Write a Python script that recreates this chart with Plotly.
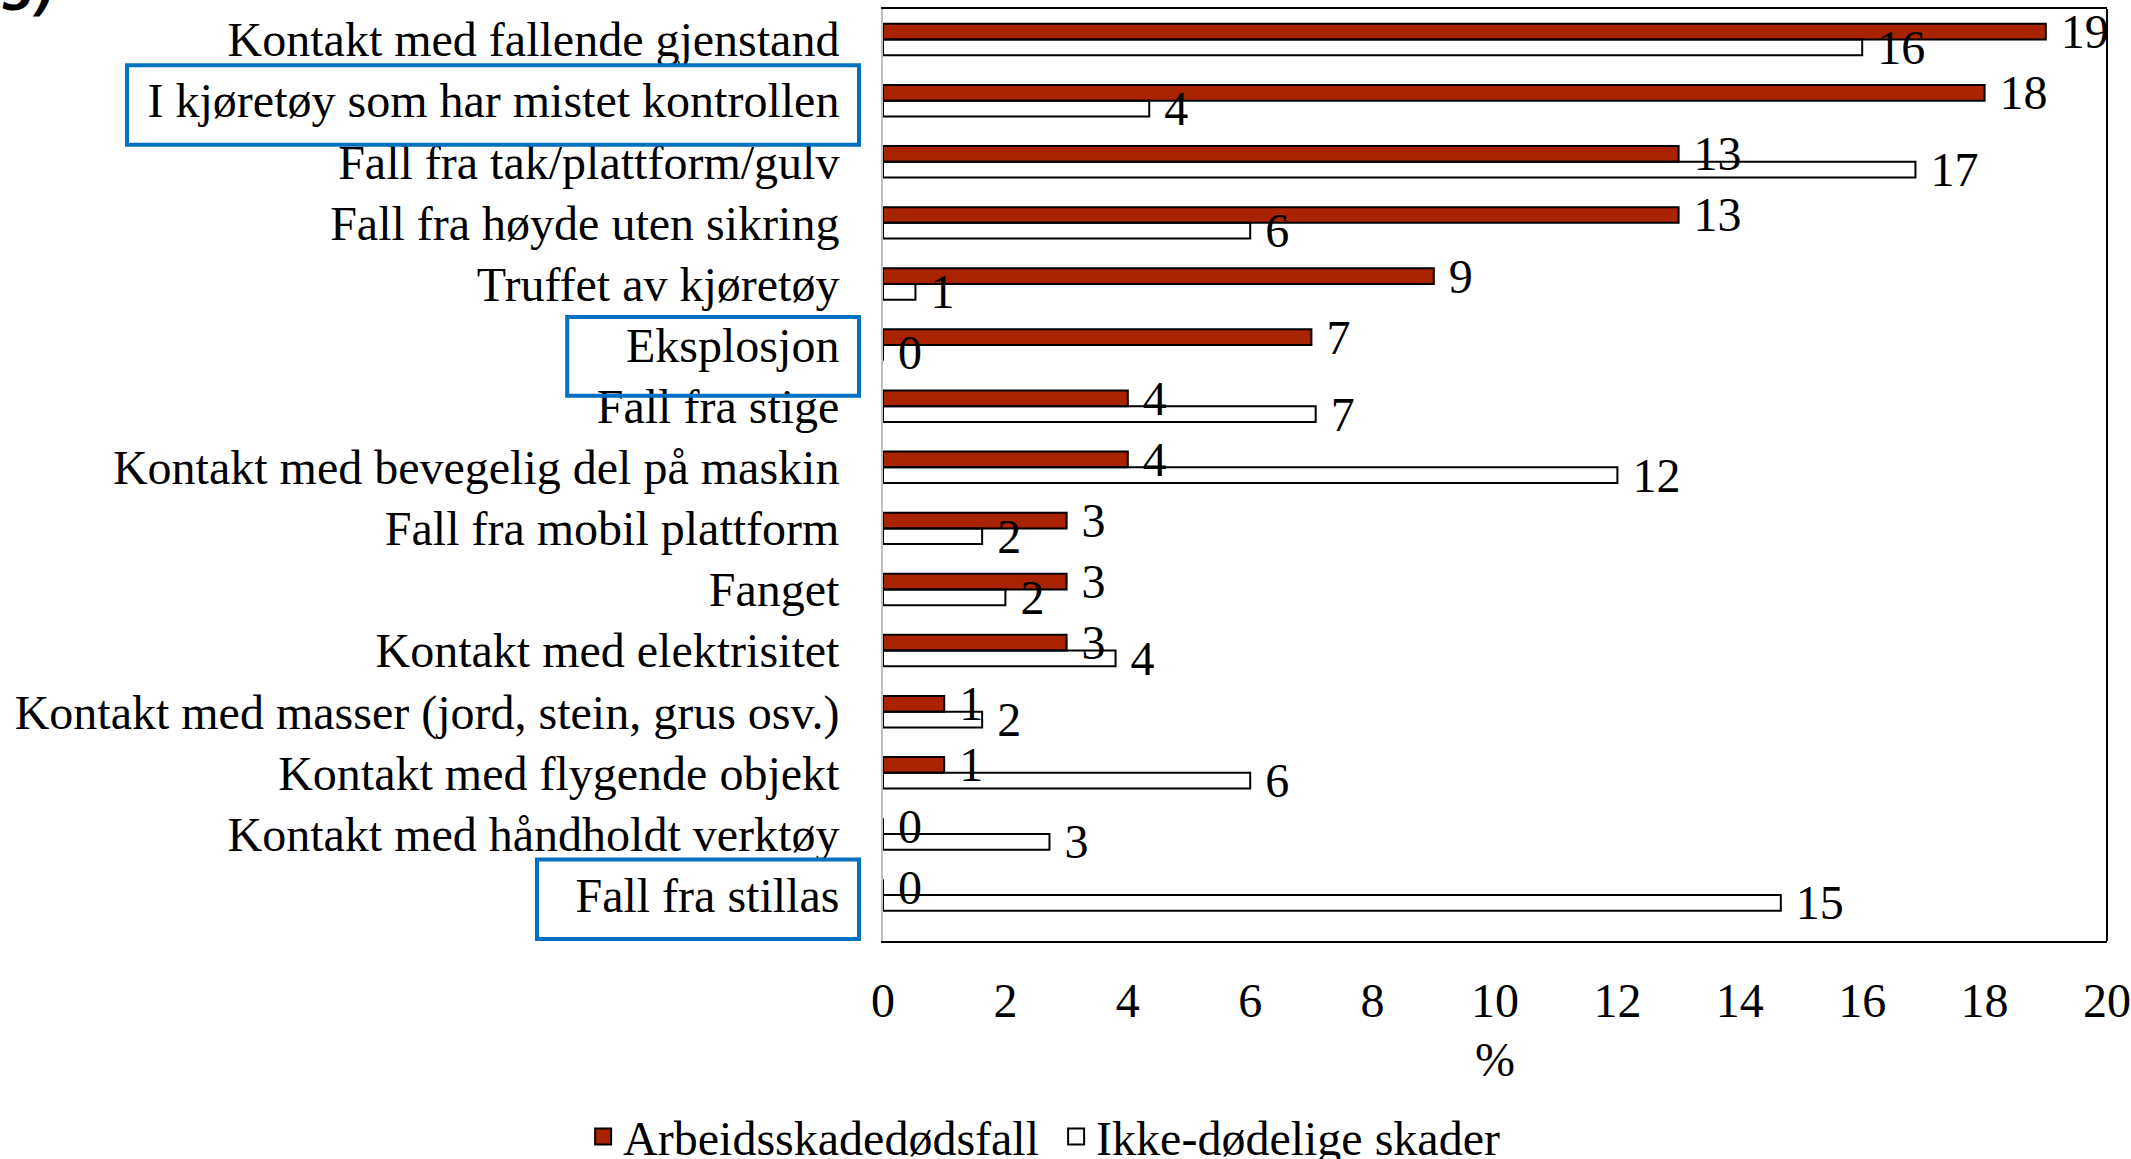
import plotly.graph_objects as go

categories = [
    "Kontakt med fallende gjenstand",
    "I kjøretøy som har mistet kontrollen",
    "Fall fra tak/plattform/gulv",
    "Fall fra høyde uten sikring",
    "Truffet av kjøretøy",
    "Eksplosjon",
    "Fall fra stige",
    "Kontakt med bevegelig del på maskin",
    "Fall fra mobil plattform",
    "Fanget",
    "Kontakt med elektrisitet",
    "Kontakt med masser (jord, stein, grus osv.)",
    "Kontakt med flygende objekt",
    "Kontakt med håndholdt verktøy",
    "Fall fra stillas",
]
fatal = [19.0, 18.0, 13.0, 13.0, 9.0, 7.0, 4.0, 4.0, 3.0, 3.0, 3.0, 1.0, 1.0, 0.0, 0.0]
nonfatal = [16.0, 4.35, 16.87, 6.0, 0.53, 0.0, 7.07, 12.0, 1.62, 2.0, 3.8, 1.62, 6.0, 2.72, 14.67]
series_names = ["Arbeidsskadedødsfall", "Ikke-dødelige skader"]
x_ticks = [0, 2, 4, 6, 8, 10, 12, 14, 16, 18, 20]
highlighted = {
    "I kjøretøy som har mistet kontrollen": -0.6176,
    "Eksplosjon": -0.258,
    "Fall fra stillas": -0.2827,
}

FONT = "Liberation Serif"
FS = 48
RED = "#AA2300"

fig = go.Figure()
fig.add_trace(go.Bar(
    y=categories, x=fatal, orientation="h", name=series_names[0],
    marker=dict(color=RED, line=dict(color="black", width=2)),
    texttemplate="\u00a0%{x:.0f}", textposition="outside",
    textfont=dict(family=FONT, size=FS, color="black"),
    constraintext="none", cliponaxis=False, showlegend=False,
))
fig.add_trace(go.Bar(
    y=categories, x=nonfatal, orientation="h", name=series_names[1],
    marker=dict(color="rgba(255,255,255,0)", line=dict(color="black", width=2)),
    texttemplate="\u00a0%{x:.0f}", textposition="outside",
    textfont=dict(family=FONT, size=FS, color="black"),
    constraintext="none", cliponaxis=False, showlegend=False,
))
# legend entries
for name, col in zip(series_names, [RED, "white"]):
    fig.add_trace(go.Scatter(
        x=[None], y=[None], mode="markers", name=name,
        marker=dict(symbol="square", size=16, color=col, line=dict(color="black", width=2)),
    ))

shapes = []
for cat, x0 in highlighted.items():
    i = categories.index(cat)
    if cat == "Eksplosjon":
        y0, y1 = i - 0.46, i + 0.83
    else:
        y0, y1 = i - 0.58, i + 0.72
    shapes.append(dict(type="rect", xref="paper", yref="y", x0=x0, x1=-0.0196,
                       y0=y0, y1=y1, line=dict(color="#0070C0", width=4),
                       fillcolor="rgba(0,0,0,0)"))
shapes.append(dict(type="line", xref="paper", yref="paper", x0=1, x1=1, y0=0, y1=1,
                   line=dict(color="black", width=2)))

fig.update_layout(
    width=2131, height=1159,
    margin=dict(l=883, r=24, t=9, b=218, autoexpand=False),
    paper_bgcolor="white", plot_bgcolor="white",
    barmode="group", bargap=0.485, bargroupgap=0,
    font=dict(family=FONT, size=FS, color="black"),
    shapes=shapes,
    showlegend=True,
    legend=dict(orientation="h", x=-0.245, xanchor="left",
                yref="container", y=0.052, yanchor="top",
                font=dict(family=FONT, size=FS, color="black"),
                itemwidth=30, tracegroupgap=0, bgcolor="rgba(0,0,0,0)",
                entrywidth=428, entrywidthmode="pixels"),
    annotations=[dict(text="<b><i>5)</i></b>", xref="paper", yref="paper",
                      x=-0.7214, y=0.985, xanchor="left", yanchor="bottom",
                      showarrow=False, font=dict(family="DejaVu Sans", size=46, color="black"))],
)
fig.update_xaxes(
    range=[0, 20], tickvals=x_ticks, showgrid=False, zeroline=False,
    showline=True, linecolor="black", linewidth=2, mirror=True,
    ticks="", ticklabelstandoff=16, automargin=False,
    tickfont=dict(family=FONT, size=FS),
    title=dict(text="%", font=dict(family=FONT, size=FS), standoff=17),
)
fig.update_yaxes(
    autorange="reversed", showgrid=False, zeroline=False,
    showline=True, linecolor="#BFBFBF", linewidth=2,
    ticks="", ticklabelstandoff=32, automargin=False,
    tickfont=dict(family=FONT, size=FS),
)

fig.write_html("out.html", config={"displayModeBar": False},
               post_script="document.body.style.margin='0';")
